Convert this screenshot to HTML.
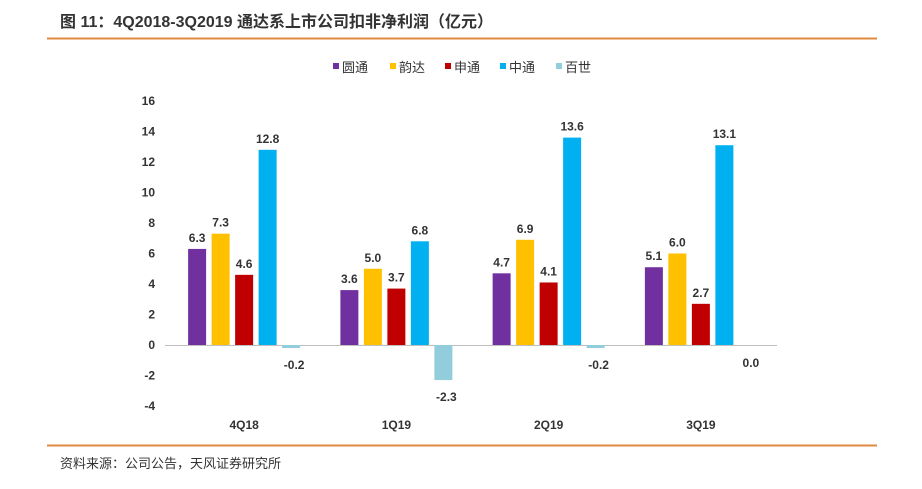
<!DOCTYPE html>
<html><head><meta charset="utf-8"><style>
body{margin:0;background:#fff;width:922px;height:484px;overflow:hidden;font-family:"Liberation Sans","Noto Sans CJK SC",sans-serif}
</style></head><body>
<svg width="922" height="484" xmlns="http://www.w3.org/2000/svg" font-family="Liberation Sans, Noto Sans CJK SC, sans-serif">
<text x="60" y="27" font-size="16" font-weight="bold" fill="#333">图 11：4Q2018-3Q2019 通达系上市公司扣非净利润（亿元）</text>
<line x1="47" y1="38.5" x2="877" y2="38.5" stroke="#E08A3C" stroke-width="2"/>
<g id="legend"></g>
<g id="axis"></g>
<g id="bars"></g>
<line x1="47" y1="445.5" x2="877" y2="445.5" stroke="#E08A3C" stroke-width="2"/>
<text x="60" y="468" font-size="13" fill="#333">资料来源：公司公告，天风证券研究所</text>
</svg>
<script>
const categories=["4Q18","1Q19","2Q19","3Q19"];
const seriesNames=["圆通","韵达","申通","中通","百世"];
const yto=[6.3,3.6,4.7,5.1];
const yunda=[7.3,5.0,6.9,6.0];
const sto=[4.6,3.7,4.1,2.7];
const zto=[12.8,6.8,13.6,13.1];
const best=[-0.2,-2.3,-0.2,0.0];
const yTicks=[16,14,12,10,8,6,4,2,0,-2,-4];
const colors=["#7030A0","#FFC000","#C00000","#00B0F0","#92CDDC"];
const series=[yto,yunda,sto,zto,best];
const NS="http://www.w3.org/2000/svg";
const y0=345, k=30.5/2;
function yS(v){return y0-v*k;}
const plotL=168, plotR=777, gw=(plotR-plotL)/categories.length;
function xS(ci,si){return plotL+gw*ci+gw/2+(si-2)*23.5-9;}
function mk(tag,attrs,parent){const e=document.createElementNS(NS,tag);for(const a in attrs)e.setAttribute(a,attrs[a]);parent.appendChild(e);return e;}
const ax=document.getElementById('axis'),bars=document.getElementById('bars'),lg=document.getElementById('legend');
yTicks.forEach(t=>{const e=mk('text',{x:155,y:yS(t)+4,'font-size':12,'font-weight':'bold','text-anchor':'end',fill:'#333'},ax);e.textContent=t;

});
const zl=mk('line',{x1:plotL-3,x2:plotR,y1:y0+0.5,y2:y0+0.5,stroke:'#BFBFBF'},ax);


categories.forEach((c,ci)=>{const e=mk('text',{x:plotL+gw*ci+gw/2,y:429,'font-size':12,'font-weight':'bold','text-anchor':'middle',fill:'#333'},ax);e.textContent=c;


series.forEach((s,si)=>{const v=s[ci];const x=xS(ci,si);const top=Math.min(yS(v),y0),h=Math.max(Math.abs(yS(v)-y0),0);
const r=mk('rect',{x:x,y:top,width:18,height:h,fill:colors[si]},bars);


const ly=v>=0?yS(v)-7:yS(v)+21;const lx=x+9;
const t=mk('text',{x:si===4?lx+3:lx,y:v===0?y0+22:ly,'font-size':12,'font-weight':'bold','text-anchor':'middle',fill:'#333'},bars);t.textContent=v.toFixed(1);

});});
const lx0=[333,390,445,500,556];
seriesNames.forEach((n,i)=>{const g=mk('g',{},lg);


mk('rect',{x:lx0[i],y:63,width:6,height:6,fill:colors[i]},g);const t=mk('text',{x:lx0[i]+9,y:72,'font-size':13,fill:'#333'},g);t.textContent=n;});
</script>
</body></html>
